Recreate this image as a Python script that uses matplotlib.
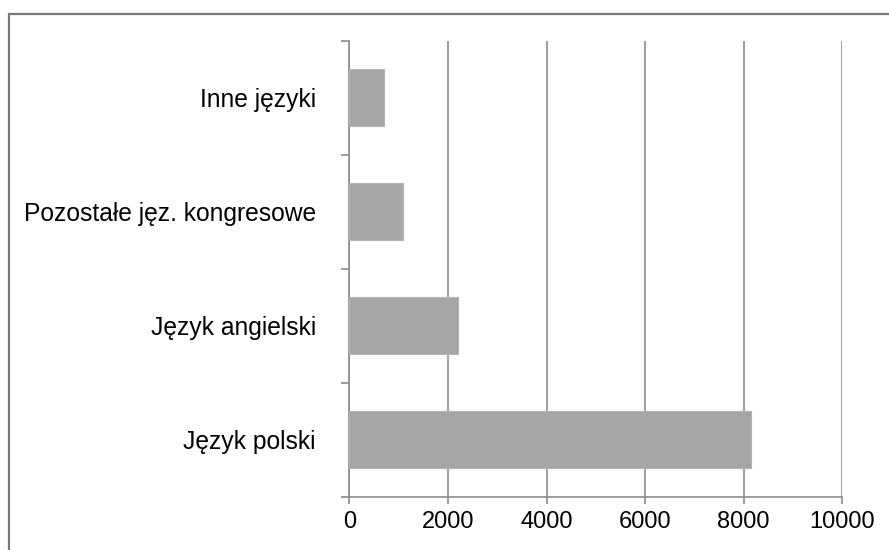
import matplotlib.pyplot as plt
from matplotlib.patches import Rectangle
import numpy as np

plt.rcParams['font.family'] = ['Liberation Sans', 'DejaVu Sans']

categories = ['Język polski', 'Język angielski', 'Pozostałe jęz. kongresowe', 'Inne języki']
values = [8150, 2210, 1080, 710]
xticks = [0, 2000, 4000, 6000, 8000, 10000]

fig = plt.figure(figsize=(8.89, 5.5), dpi=100)
ax = fig.add_axes([0.3929, 0.0969, 0.5546, 0.8291])

pos = np.arange(len(categories))
ax.barh(pos, values, height=0.5, color='#a6a6a6', edgecolor='#b4b4b4', linewidth=0.8, zorder=3)

ax.set_xlim(0, 10000)
ax.set_ylim(-0.5, len(categories) - 0.5)
ax.set_xticks(xticks)
ax.set_xticklabels([str(t) for t in xticks], fontsize=17)
ax.set_yticks(pos)
ax.set_yticklabels(categories, fontsize=17.7)
ax.set_yticks(np.arange(len(categories) + 1) - 0.5, minor=True)

ax.tick_params(axis='y', which='major', length=0, pad=24)
ax.tick_params(axis='y', which='minor', length=6, width=1.2, color='#8c8c8c', direction='out')
ax.tick_params(axis='x', length=5, width=1.2, color='#8c8c8c', pad=5)

ax.grid(axis='x', color='#8c8c8c', linewidth=1.2, zorder=0)
for side in ['top', 'right']:
    ax.spines[side].set_visible(False)
for side in ['left', 'bottom']:
    ax.spines[side].set_color('#8c8c8c')
    ax.spines[side].set_linewidth(1.2)

# ramka wykresu (widoczna tylko z lewej i u góry)
fig.patches.append(Rectangle((9 / 889, -0.1), 1.2, 1 - 14 / 550 + 0.1, transform=fig.transFigure,
                             fill=False, edgecolor='#7a7a7a', linewidth=1.6))

plt.savefig('out.png')
